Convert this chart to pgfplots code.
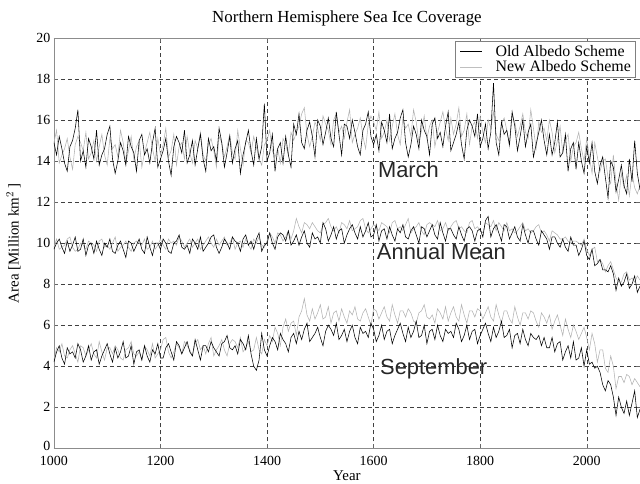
\documentclass[border=0pt]{standalone}
\usepackage{pgfplots}
\usepackage{pgfplotstable}
\pgfplotsset{compat=1.18}
\usepackage{fontspec}
\setmainfont{Liberation Serif}
\newfontfamily\labfont{Liberation Sans}
\pgfplotstableread{
year mB mG aB aG sB sG
1000 14.9 14.9 9.7 9.8 4.2 4.3
1005 14.3 15.5 10.0 10.2 4.7 4.9
1010 15.2 13.9 10.2 9.7 5.0 4.7
1015 14.6 14.3 9.8 9.8 4.4 5.1
1020 13.9 14.6 9.5 9.9 4.1 4.5
1025 13.5 15.1 10.1 10.2 4.9 4.4
1030 14.7 14.2 9.6 10.3 4.6 4.8
1035 15.0 13.6 9.9 9.8 4.7 5.0
1040 15.6 14.8 10.3 9.6 4.4 4.6
1045 16.5 15.2 9.6 9.7 5.1 4.2
1050 14.0 14.9 9.7 10.0 4.8 5.0
1055 14.5 14.5 10.2 9.9 4.2 4.9
1060 13.7 15.4 9.4 9.7 4.5 4.5
1065 15.1 14.1 9.9 10.1 5.0 4.8
1070 14.7 14.4 10.0 10.0 4.3 5.1
1075 14.1 15.0 9.5 9.9 4.7 4.6
1080 15.5 14.0 10.1 9.6 4.8 4.4
1085 13.8 14.7 9.7 10.1 4.1 5.2
1090 14.3 15.3 9.4 10.2 4.5 4.7
1095 14.6 14.3 10.0 9.8 4.8 4.3
1100 15.3 13.8 9.8 9.9 5.1 4.9
1105 15.7 15.1 10.2 9.7 4.6 4.9
1110 14.1 14.6 9.6 10.0 4.2 4.6
1115 13.4 14.8 9.5 10.3 4.9 5.0
1120 14.0 14.2 9.9 9.6 4.4 4.8
1125 14.9 15.5 10.1 9.8 4.7 4.4
1130 14.5 14.9 9.7 9.9 5.2 4.3
1135 13.8 13.9 9.3 10.1 4.4 4.8
1140 15.2 14.5 10.1 9.8 4.5 4.9
1145 14.7 15.2 10.0 9.6 5.0 5.2
1150 14.4 14.1 9.6 10.0 4.1 4.6
1155 13.5 14.7 9.9 10.1 4.7 4.5
1160 15.0 15.0 10.2 10.0 4.8 4.7
1165 15.3 13.7 9.7 9.9 4.3 4.3
1170 14.3 14.4 9.5 10.2 5.0 5.0
1175 14.6 14.9 10.3 9.7 4.5 4.8
1180 13.9 15.4 9.8 9.8 4.2 4.5
1185 14.9 14.6 9.4 10.1 4.8 5.1
1190 15.6 14.0 10.0 9.7 4.6 4.4
1195 13.7 15.1 10.0 9.9 5.1 4.6
1200 14.1 14.3 9.7 10.2 4.4 4.8
1205 14.5 14.8 10.2 9.9 4.4 5.3
1210 15.1 15.6 10.0 9.7 4.9 5.4
1215 14.0 14.2 9.6 10.2 5.1 4.7
1220 13.3 14.5 9.5 10.0 4.7 4.4
1225 14.7 15.3 10.0 10.1 4.3 4.7
1230 15.2 13.8 10.1 9.9 5.2 5.1
1235 14.9 14.7 10.4 10.3 5.0 4.9
1240 14.4 14.9 9.8 10.1 4.6 4.6
1245 15.5 14.1 9.7 9.8 4.9 5.2
1250 13.9 15.2 9.9 10.0 5.2 5.0
1255 14.3 14.4 9.5 10.2 4.7 4.8
1260 15.0 13.9 10.2 9.8 4.5 4.5
1265 13.8 15.0 10.0 10.0 5.3 5.1
1270 14.6 14.6 9.7 10.2 4.8 5.3
1275 15.3 15.4 10.3 9.7 4.3 4.8
1280 14.1 14.3 9.6 9.9 5.0 5.0
1285 13.5 14.0 9.8 10.1 5.0 4.6
1290 15.1 14.8 10.0 10.3 4.7 5.1
1295 14.5 15.1 10.3 10.0 5.2 5.4
1300 14.7 14.5 10.4 9.8 4.9 4.5
1305 14.0 13.7 9.8 10.2 4.7 4.8
1310 15.6 15.2 9.5 9.9 4.5 5.0
1315 14.9 14.9 9.8 10.1 5.1 5.3
1320 13.7 14.2 10.2 10.3 5.2 4.8
1325 14.4 14.7 10.0 9.9 5.5 4.5
1330 15.2 15.3 9.7 10.0 4.9 5.1
1335 13.9 14.4 10.3 10.3 4.8 5.3
1340 14.6 14.1 10.1 9.7 5.0 5.2
1345 15.0 15.5 10.0 10.0 4.6 4.9
1350 13.4 14.6 9.6 10.1 5.3 5.4
1355 14.3 13.8 10.2 9.8 5.1 4.7
1360 14.9 15.0 10.4 10.2 4.8 4.9
1365 15.5 14.9 9.9 9.9 5.5 5.2
1370 14.5 14.4 10.1 9.7 4.6 4.7
1375 13.8 15.2 9.7 10.2 4.0 4.8
1380 15.1 14.7 10.2 10.0 3.8 5.4
1385 14.1 14.1 10.5 10.3 4.3 4.8
1390 14.7 13.8 9.6 9.9 5.6 4.6
1395 16.8 14.8 9.9 9.8 4.8 5.3
1400 14.0 15.0 10.0 10.1 4.5 5.0
1405 14.4 15.5 10.5 10.5 5.0 5.5
1410 15.3 14.5 10.0 10.3 5.4 5.2
1415 13.5 14.2 9.7 10.0 5.2 5.9
1420 14.6 14.6 10.3 10.5 4.8 5.6
1425 14.9 13.9 10.5 10.4 5.6 5.0
1430 13.9 15.1 10.4 10.1 5.3 5.9
1435 15.2 14.8 10.1 10.3 5.1 6.3
1440 14.3 14.3 10.6 10.6 4.7 5.7
1445 13.7 15.4 9.9 10.2 5.4 6.1
1450 15.8 15.0 10.1 10.6 5.6 6.2
1455 15.3 15.4 10.4 11.2 5.1 5.5
1460 16.3 15.7 9.9 10.8 5.7 6.4
1465 14.9 16.3 10.3 10.5 5.3 6.7
1470 14.6 16.6 10.6 11.0 5.8 7.3
1475 15.5 15.3 10.0 10.9 6.1 6.5
1480 15.9 14.7 9.8 10.7 5.2 6.2
1485 15.2 15.2 10.5 11.0 5.4 6.8
1490 14.2 15.9 10.2 10.8 5.6 6.3
1495 16.0 15.6 10.3 10.6 5.9 6.6
1500 15.7 15.0 10.0 10.5 5.4 7.0
1505 14.8 16.2 11.0 10.9 5.0 6.3
1510 15.4 15.8 10.7 11.0 5.7 6.4
1515 16.1 15.5 10.1 11.2 6.0 6.9
1520 15.1 14.8 10.4 10.8 5.8 6.1
1525 14.7 16.0 10.8 10.6 5.5 6.6
1530 16.4 16.3 10.2 10.8 6.1 6.7
1535 15.3 15.4 10.6 10.5 5.3 6.2
1540 14.3 15.7 10.7 11.0 5.5 6.8
1545 15.8 15.1 10.0 10.9 5.8 6.4
1550 15.7 15.9 10.4 10.7 5.2 6.1
1555 15.1 16.5 10.7 11.1 5.7 6.7
1560 16.0 14.9 10.9 10.6 6.0 6.5
1565 15.4 15.3 10.5 10.7 5.4 6.9
1570 14.7 15.6 10.2 10.8 5.1 6.3
1575 14.3 16.1 10.8 11.1 5.9 6.2
1580 15.5 15.2 10.3 11.2 5.6 6.6
1585 15.8 14.6 10.6 10.7 5.7 6.8
1590 16.4 15.8 11.0 10.5 5.4 6.4
1595 15.2 16.2 10.3 10.7 6.1 6.0
1600 14.8 15.9 10.4 10.9 5.8 6.8
1605 15.3 15.5 10.9 10.8 5.2 6.7
1610 14.5 16.4 10.1 10.6 5.5 6.3
1615 15.9 15.1 10.6 11.0 6.0 6.6
1620 15.5 15.4 10.7 10.9 5.3 6.9
1625 14.9 16.0 10.2 10.8 5.7 6.4
1630 16.3 15.0 10.8 10.5 5.8 6.2
1635 14.6 15.7 10.4 11.0 5.1 7.0
1640 15.1 16.3 10.1 11.1 5.5 6.5
1645 15.4 15.3 10.7 10.7 5.8 6.1
1650 16.1 14.8 10.5 10.8 6.1 6.7
1655 16.5 16.1 10.9 10.6 5.6 6.7
1660 14.9 15.6 10.3 10.9 5.2 6.4
1665 14.2 15.8 10.2 11.2 5.9 6.8
1670 14.8 15.2 10.6 10.5 5.4 6.6
1675 15.7 16.5 10.8 10.7 5.7 6.2
1680 15.3 15.9 10.4 10.8 6.2 6.1
1685 14.6 14.9 10.0 11.0 5.4 6.6
1690 16.0 15.5 10.8 10.6 5.5 6.7
1695 15.5 16.2 10.7 10.4 6.0 7.0
1700 15.2 15.1 10.3 10.9 5.1 6.4
1705 14.3 15.7 10.6 11.0 5.7 6.3
1710 15.8 16.0 10.9 10.9 5.8 6.5
1715 16.1 14.7 10.4 10.8 5.3 6.1
1720 15.1 15.4 10.2 11.1 6.0 6.8
1725 15.4 15.9 11.0 10.6 5.5 6.6
1730 14.7 16.4 10.5 10.7 5.2 6.3
1735 15.7 15.6 10.1 11.0 5.8 6.9
1740 16.4 15.0 10.7 10.6 5.6 6.2
1745 14.5 16.1 10.7 10.8 5.7 6.6
1750 14.9 15.3 10.4 11.0 5.4 6.9
1755 15.3 15.8 10.2 11.1 6.1 6.4
1760 15.9 16.6 10.8 10.7 5.8 6.2
1765 14.8 15.2 10.4 10.8 5.2 7.0
1770 14.1 15.5 10.1 10.6 5.5 6.5
1775 15.5 16.3 10.7 10.5 6.0 6.1
1780 16.0 14.8 10.8 11.0 5.3 6.7
1785 15.7 15.7 10.6 11.1 5.7 6.7
1790 15.2 15.9 10.1 10.7 5.8 6.4
1795 16.3 15.1 10.6 10.8 5.1 6.8
1800 14.7 16.2 10.7 10.6 5.5 6.7
1805 15.1 15.4 10.3 10.5 5.8 6.3
1810 15.8 14.9 11.1 11.0 6.1 6.6
1815 14.6 16.0 11.3 10.9 5.6 6.9
1820 15.4 15.6 10.3 10.8 5.2 6.4
1825 17.8 16.4 10.7 11.1 5.9 6.2
1830 14.9 15.3 10.9 10.6 5.4 7.0
1835 14.3 15.0 10.5 11.0 5.7 6.5
1840 15.9 15.8 10.1 10.8 6.2 6.1
1845 15.3 16.1 10.9 10.6 5.4 6.7
1850 15.5 15.5 10.8 11.0 5.5 6.7
1855 14.8 14.7 10.2 10.6 5.8 6.3
1860 16.4 16.2 10.5 10.7 4.9 6.1
1865 15.7 15.9 10.8 10.5 5.5 6.9
1870 14.5 15.2 10.3 10.6 5.6 6.4
1875 15.2 15.7 10.1 10.8 5.1 6.0
1880 16.0 16.3 10.9 11.0 5.8 6.6
1885 14.7 15.4 10.4 10.6 5.3 6.6
1890 15.4 15.1 10.0 10.7 5.0 6.3
1895 15.8 16.5 10.6 10.5 5.6 6.7
1900 14.2 15.6 10.6 10.6 5.4 6.6
1905 14.8 14.6 10.2 10.8 5.3 6.2
1910 15.4 15.9 9.9 10.9 5.5 5.9
1915 16.0 15.4 10.6 10.5 5.0 6.6
1920 15.0 15.6 10.4 10.6 5.4 6.4
1925 14.3 15.0 10.2 10.4 4.9 6.1
1930 15.3 16.0 9.7 10.1 4.9 6.5
1935 14.3 15.4 10.3 10.6 5.4 5.8
1940 14.9 14.4 10.3 10.5 4.7 6.2
1945 15.9 15.0 10.0 10.4 5.1 6.5
1950 14.2 15.7 9.8 10.2 5.2 6.0
1955 14.4 14.4 10.2 10.2 4.3 5.5
1960 15.3 15.0 9.8 10.3 4.7 6.3
1965 13.5 15.3 9.6 10.1 5.0 5.8
1970 14.6 14.0 10.3 10.0 4.4 5.4
1975 14.9 14.7 9.9 10.1 5.2 6.0
1980 13.6 14.9 9.9 10.1 4.3 5.7
1985 14.9 15.4 9.4 10.0 4.4 5.3
1990 14.0 14.6 9.7 9.9 4.9 5.6
1995 13.4 14.0 10.1 10.2 4.0 5.9
2000 14.7 15.1 9.4 9.7 4.8 5.4
2005 13.9 14.2 9.2 9.4 4.1 4.8
2010 14.9 13.4 9.7 9.7 4.2 5.6
2015 13.5 14.9 8.9 9.8 3.9 5.1
2020 12.9 14.2 9.0 9.1 4.0 4.2
2025 13.8 13.5 9.2 9.2 3.7 4.8
2030 14.2 14.0 8.7 9.0 3.1 4.8
2035 13.2 14.1 8.7 8.6 2.8 3.9
2040 12.2 13.2 8.6 8.9 3.3 3.7
2045 14.0 12.9 8.9 9.1 3.1 4.5
2050 13.7 14.3 8.5 8.7 2.5 4.0
2055 12.5 12.9 7.7 8.3 1.6 2.9
2060 13.1 12.1 8.3 8.1 2.5 3.5
2065 13.8 13.4 7.9 8.1 2.0 3.5
2070 12.8 12.7 8.1 8.5 1.7 3.2
2075 12.4 13.3 8.5 8.6 2.3 3.6
2080 14.1 12.3 7.8 8.2 1.6 3.5
2085 13.0 13.4 8.0 8.3 2.2 3.1
2090 15.0 12.7 8.4 8.1 2.8 3.4
2095 13.4 12.4 7.6 8.4 1.5 3.2
2100 12.6 12.8 7.9 8.2 1.9 3.0
}\seaice
\begin{document}
\begin{tikzpicture}
\begin{axis}[
  scale only axis,
  width=587bp, height=411bp,
  xmin=1000, xmax=2100, ymin=0, ymax=20,
  xtick={1000,1200,...,2000},
  ytick={0,2,...,20},
  /pgf/number format/assume math mode=true,
  /pgf/number format/1000 sep={},
  tick label style={font=\fontsize{14}{14}\selectfont},
  xticklabel style={yshift=-4bp},
  yticklabel={\ifdim\tick pt<1pt\raisebox{4bp}{\pgfmathprintnumber{\tick}}\else\pgfmathprintnumber{\tick}\fi},
  tick style={black!60, line width=0.4bp},
  major tick length=4bp,
  axis line style={black!45, line width=0.5bp},
  grid=major,
  major grid style={black!75, line width=0.4bp, dash pattern=on 4bp off 3bp},
  title={Northern Hemisphere Sea Ice Coverage},
  title style={font=\fontsize{17}{17}\selectfont, yshift=2bp},
  xlabel={Year},
  ylabel={Area [Million km$^2$ ]},
  label style={font=\fontsize{15}{15}\selectfont},
  xlabel style={yshift=1bp},
  ylabel style={yshift=9bp},
  legend style={at={(1,1)}, anchor=north east, xshift=-5bp, yshift=-3bp,
    draw=black!50, line width=0.4bp, font=\fontsize{16}{16}\selectfont,
    row sep=-1bp, inner sep=2bp, cells={anchor=west}},
  legend image code/.code={\draw[#1] (0bp,0bp) -- (22bp,0bp); \path (-3bp,0bp) (33bp,0bp);},
  clip=true,
]
\addlegendimage{black, line width=0.6bp}
\addlegendentry{Old Albedo Scheme}
\addlegendimage{black!25, line width=0.6bp}
\addlegendentry{New Albedo Scheme}
\addplot[black!30, line width=0.55bp, forget plot] table[x=year, y=mG] {\seaice};
\addplot[black!30, line width=0.55bp, forget plot] table[x=year, y=aG] {\seaice};
\addplot[black!30, line width=0.55bp, forget plot] table[x=year, y=sG] {\seaice};
\addplot[black, line width=0.55bp, forget plot] table[x=year, y=mB] {\seaice};
\addplot[black, line width=0.55bp, forget plot] table[x=year, y=aB] {\seaice};
\addplot[black, line width=0.55bp, forget plot] table[x=year, y=sB] {\seaice};
\node[anchor=base west, font=\labfont\fontsize{22}{22}\selectfont, black!85, inner sep=0pt] at (axis cs:1608,13.2) {March};
\node[anchor=base west, font=\labfont\fontsize{22}{22}\selectfont, black!85, inner sep=0pt] at (axis cs:1606,9.2) {Annual Mean};
\node[anchor=base west, font=\labfont\fontsize{22}{22}\selectfont, black!85, inner sep=0pt] at (axis cs:1612,3.6) {September};
\end{axis}
\pgfresetboundingbox
\path[use as bounding box] ([xshift=-54bp,yshift=-35bp]current axis.south west) rectangle ([yshift=38bp]current axis.north east);
\end{tikzpicture}
\end{document}
